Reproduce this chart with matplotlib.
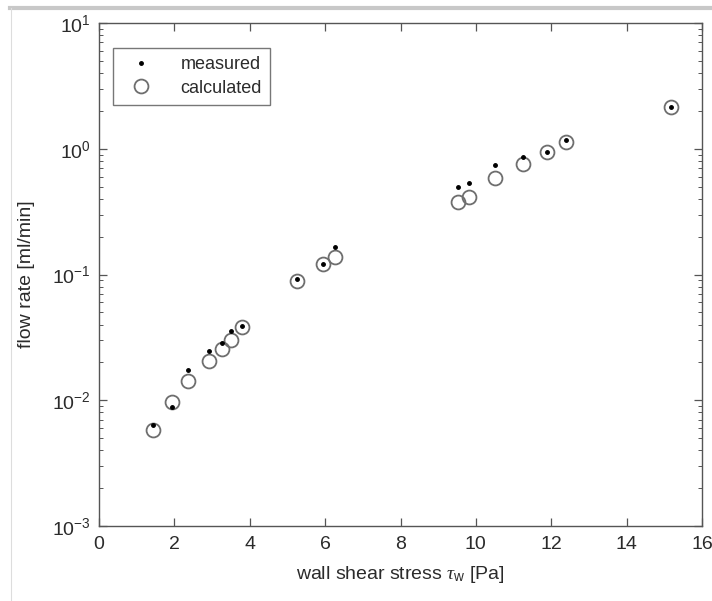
import matplotlib
matplotlib.use("Agg")
import matplotlib.pyplot as plt
from matplotlib.lines import Line2D

plt.rcParams['font.family'] = ['Liberation Sans', 'DejaVu Sans']
plt.rcParams['mathtext.fontset'] = 'custom'
plt.rcParams['mathtext.rm'] = 'Liberation Sans'
plt.rcParams['mathtext.it'] = 'Liberation Serif:italic'

# wall shear stress [Pa]
tau_w = [1.44, 1.94, 2.37, 2.93, 3.26, 3.50, 3.79, 5.26, 5.94, 6.27,
         9.53, 9.82, 10.50, 11.26, 11.88, 12.39, 15.18]
# flow rate [ml/min]
q_measured = [0.00635, 0.00889, 0.0174, 0.0248, 0.0284, 0.0357, 0.0392,
              0.0921, 0.121, 0.164, 0.499, 0.531, 0.743, 0.865, 0.948,
              1.174, 2.14]
q_calculated = [0.00580, 0.00974, 0.0141, 0.0205, 0.0254, 0.0301, 0.0385,
                0.0893, 0.121, 0.139, 0.379, 0.411, 0.582, 0.757, 0.948,
                1.125, 2.16]

txt = '#2b2b2b'
edge = '#555555'

fig = plt.figure(figsize=(7.12, 6.01), dpi=100)
ax = fig.add_axes([99 / 712, 1 - 526 / 601, 603 / 712, 503 / 601])

ax.plot(tau_w, q_measured, linestyle='none', marker='.', color='black',
        markersize=5, label='measured', zorder=3)
ax.plot(tau_w, q_calculated, linestyle='none', marker='o', markersize=10,
        markerfacecolor='none', markeredgecolor='#6e6e6e', markeredgewidth=1.3,
        label='calculated', zorder=2)

ax.set_yscale('log')
ax.set_xlim(0, 16)
ax.set_ylim(1e-3, 1e1)
ax.set_xticks(range(0, 17, 2))

ax.tick_params(which='both', direction='in', top=True, right=True,
               colors=edge, labelcolor=txt, labelsize=14)
ax.tick_params(which='major', length=6, width=0.9)
ax.tick_params(which='minor', length=3, width=0.7)
ax.tick_params(axis='x', pad=7)
ax.tick_params(axis='y', pad=6)
for s in ax.spines.values():
    s.set_color(edge)
    s.set_linewidth(1.0)

ax.set_xlabel(r'wall shear stress $\tau_{\mathrm{w}}$ [Pa]', fontsize=14,
              color=txt, labelpad=8)
ax.set_ylabel('flow rate [ml/min]', fontsize=14, color=txt, labelpad=12)

leg = ax.legend(loc='upper left', bbox_to_anchor=(0.023, 0.950), fontsize=13,
                frameon=True, fancybox=False, borderpad=0.45, handletextpad=1.1,
                handlelength=2.2, labelspacing=0.35, borderaxespad=0)
leg.get_frame().set_edgecolor('#555555')
leg.get_frame().set_linewidth(1.0)
for t in leg.get_texts():
    t.set_color(txt)

# scan border of the original picture
fig.add_artist(Line2D([10 / 712, 1], [1 - 8 / 601, 1 - 8 / 601],
                      transform=fig.transFigure, color='#c8c8c8', linewidth=3))
fig.add_artist(Line2D([11 / 712, 11 / 712], [0, 1 - 8 / 601],
                      transform=fig.transFigure, color='#dddddd', linewidth=0.8))

fig.savefig('out.png', dpi=100)
